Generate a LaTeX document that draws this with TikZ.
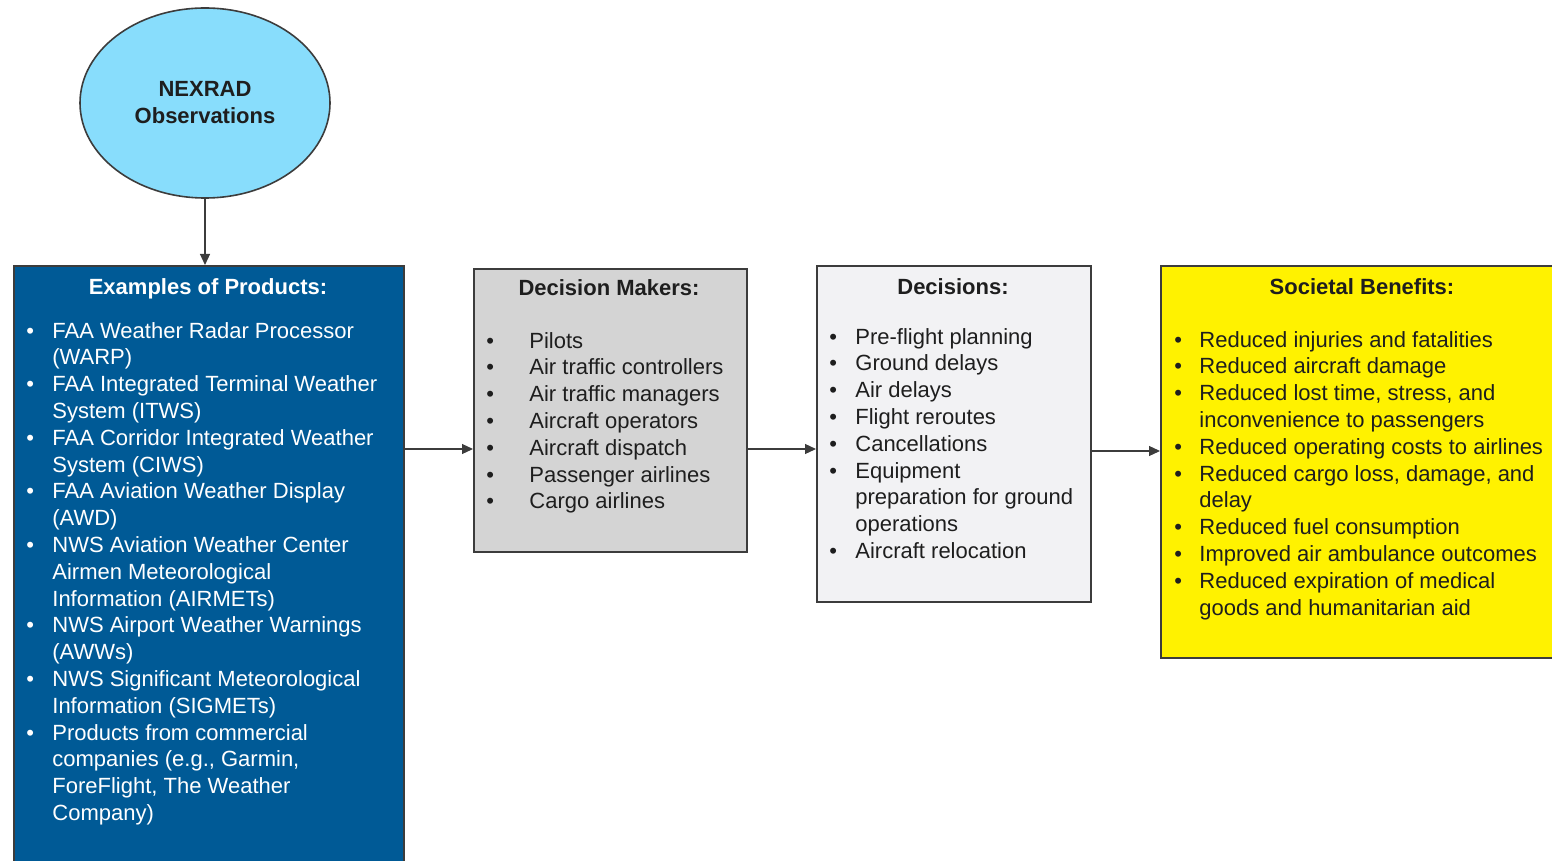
\documentclass[tikz,border=0pt]{standalone}
\usepackage{fontspec}
\setmainfont{Liberation Sans}
\usetikzlibrary{shapes.geometric,arrows.meta}
\definecolor{edgec}{HTML}{3C3C3C}
\definecolor{obsfill}{HTML}{88DDFC}
\definecolor{prodfill}{HTML}{005A96}
\definecolor{makerfill}{HTML}{D4D4D4}
\definecolor{decfill}{HTML}{F2F2F4}
\definecolor{benfill}{HTML}{FFF200}
\definecolor{txt}{HTML}{1E1E1E}
\newcommand{\bitem}[1]{\makebox[#1][l]{\textbullet}}
\begin{document}
\begin{tikzpicture}[x=0.5pt,y=-0.5pt,
  box/.style={draw=edgec, line width=0.8pt, inner sep=0, anchor=north west},
  flow/.style={draw=edgec, line width=0.6pt, -{Triangle[length=5.5pt,width=5pt]}},
  hdr/.style={font=\fontsize{11}{13.4}\selectfont\bfseries, anchor=base, inner sep=0},
  lst/.style={font=\fontsize{11}{13.4}\selectfont, anchor=base west, inner sep=0, align=left}]
\useasboundingbox (0,0) rectangle (1552,861);
\clip (0,0) rectangle (1552,861);

% source of the observations
\node[ellipse, draw=edgec, line width=0.8pt, fill=obsfill,
      minimum width=125pt, minimum height=95pt, inner sep=0] (obs) at (205,103) {};
\node[hdr, text=txt] (obst1) at (205,97) {NEXRAD};
\node[hdr, text=txt] (obst2) at (205,124) {Observations};

% the four stages
\node[box, fill=prodfill, minimum width=195pt, minimum height=310pt] (prod) at (13,265) {};
\node[box, fill=makerfill, minimum width=136.5pt, minimum height=141.5pt] (mk) at (473,268) {};
\node[box, fill=decfill, minimum width=137pt, minimum height=168pt] (dec) at (816,265) {};
\node[box, fill=benfill, minimum width=202.5pt, minimum height=196pt] (ben) at (1160,265) {};

% headings
\node[hdr, text=white] (prodh) at (208,294) {Examples of Products:};
\node[hdr, text=txt] (mkh) at (609,295) {Decision Makers:};
\node[hdr, text=txt] (dech) at (953,294) {Decisions:};
\node[hdr, text=txt] (benh) at (1362,294) {Societal Benefits:};

% lists
\node[lst, text=white] (prodl) at (26,338) {\begin{tabular}[t]{@{}l@{}l@{}}
\bitem{13pt} & FAA Weather Radar Processor\\
 & (WARP)\\
\bitem{13pt} & FAA Integrated Terminal Weather\\
 & System (ITWS)\\
\bitem{13pt} & FAA Corridor Integrated Weather\\
 & System (CIWS)\\
\bitem{13pt} & FAA Aviation Weather Display\\
 & (AWD)\\
\bitem{13pt} & NWS Aviation Weather Center\\
 & Airmen Meteorological\\
 & Information (AIRMETs)\\
\bitem{13pt} & NWS Airport Weather Warnings\\
 & (AWWs)\\
\bitem{13pt} & NWS Significant Meteorological\\
 & Information (SIGMETs)\\
\bitem{13pt} & Products from commercial\\
 & companies (e.g., Garmin,\\
 & ForeFlight, The Weather\\
 & Company)
\end{tabular}};

\node[lst, text=txt] (mkl) at (486,348) {\begin{tabular}[t]{@{}l@{}l@{}}
\bitem{21.5pt} & Pilots\\
\bitem{21.5pt} & Air traffic controllers\\
\bitem{21.5pt} & Air traffic managers\\
\bitem{21.5pt} & Aircraft operators\\
\bitem{21.5pt} & Aircraft dispatch\\
\bitem{21.5pt} & Passenger airlines\\
\bitem{21.5pt} & Cargo airlines
\end{tabular}};

\node[lst, text=txt] (decl) at (829,344) {\begin{tabular}[t]{@{}l@{}l@{}}
\bitem{13pt} & Pre-flight planning\\
\bitem{13pt} & Ground delays\\
\bitem{13pt} & Air delays\\
\bitem{13pt} & Flight reroutes\\
\bitem{13pt} & Cancellations\\
\bitem{13pt} & Equipment\\
 & preparation for ground\\
 & operations\\
\bitem{13pt} & Aircraft relocation
\end{tabular}};

\node[lst, text=txt] (benl) at (1174,347) {\begin{tabular}[t]{@{}l@{}l@{}}
\bitem{12.5pt} & Reduced injuries and fatalities\\
\bitem{12.5pt} & Reduced aircraft damage\\
\bitem{12.5pt} & Reduced lost time, stress, and\\
 & inconvenience to passengers\\
\bitem{12.5pt} & Reduced operating costs to airlines\\
\bitem{12.5pt} & Reduced cargo loss, damage, and\\
 & delay\\
\bitem{12.5pt} & Reduced fuel consumption\\
\bitem{12.5pt} & Improved air ambulance outcomes\\
\bitem{12.5pt} & Reduced expiration of medical\\
 & goods and humanitarian aid
\end{tabular}};

% connectors
\coordinate (rowa) at (0,449);
\coordinate (rowb) at (0,451);
\draw[flow] (obs.south) -- (obs.south |- prod.north);
\draw[flow] (prod.east |- rowa) -- (mk.west |- rowa);
\draw[flow] (mk.east |- rowa) -- (dec.west |- rowa);
\draw[flow] (dec.east |- rowb) -- (ben.west |- rowb);
\end{tikzpicture}
\end{document}
